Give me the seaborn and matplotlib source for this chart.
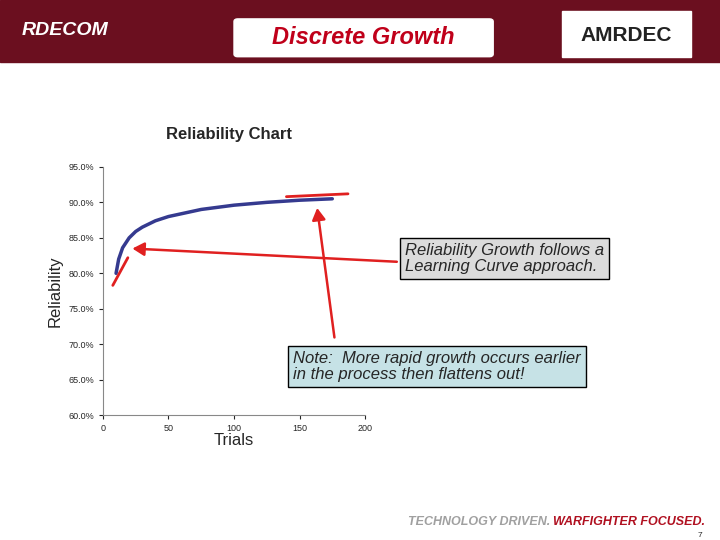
import numpy as np
import pandas as pd
import seaborn as sns
import matplotlib.pyplot as plt
from matplotlib.patches import Rectangle, FancyBboxPatch, FancyArrowPatch

sns.set_style("white")
plt.rcParams['font.family'] = ['Liberation Sans', 'DejaVu Sans']

trials = [10, 12, 15, 20, 25, 30, 40, 50, 75, 100, 125, 150, 175]
reliability = [80.0, 82.0, 83.6, 85.0, 85.9, 86.5, 87.4, 88.0, 89.0, 89.6, 90.0, 90.3, 90.5]
tangent_x = [[7.5, 19], [140, 187]]
tangent_y = [[78.3, 82.2], [90.8, 91.2]]

fig = plt.figure(figsize=(7.2, 5.4), dpi=100)

# header banner
fig.patches.append(Rectangle((0, 0.885), 1, 0.115, transform=fig.transFigure,
                             color='#6b0f1f', zorder=0))
fig.patches.append(FancyBboxPatch((0.33, 0.9), 0.35, 0.06, transform=fig.transFigure,
                                  boxstyle='round,pad=0.005', color='white', zorder=1))
fig.text(0.505, 0.93, 'Discrete Growth', ha='center', va='center', fontsize=17,
         fontweight='bold', style='italic', color='#c0001a')
fig.text(0.03, 0.935, 'RDECOM', fontsize=14, fontweight='bold', style='italic', color='white')
fig.patches.append(Rectangle((0.78, 0.895), 0.18, 0.085, transform=fig.transFigure,
                             color='white', zorder=1))
fig.text(0.87, 0.935, 'AMRDEC', ha='center', va='center', fontsize=15,
         fontweight='bold', color='#222222')
fig.text(0.566, 0.028, 'TECHNOLOGY DRIVEN.', fontsize=9, style='italic',
         fontweight='bold', color='#a0a0a0')
fig.text(0.768, 0.028, 'WARFIGHTER FOCUSED.', fontsize=9, style='italic',
         fontweight='bold', color='#b01020')
fig.text(0.975, 0.005, '7', fontsize=6, ha='right')

fig.text(0.318, 0.742, 'Reliability Chart', ha='center', fontsize=12, fontweight='bold')

ax = fig.add_axes([0.143, 0.231, 0.364, 0.46])
df = pd.DataFrame({'Trials': trials, 'Reliability': reliability})
sns.lineplot(data=df, x='Trials', y='Reliability', ax=ax, color='#353a8f', lw=2.5)
for tx, ty in zip(tangent_x, tangent_y):
    ax.plot(tx, ty, color='#e02020', lw=2)
ax.set_xlim(0, 200)
ax.set_ylim(60, 95)
ax.set_xticks([0, 50, 100, 150, 200])
ax.set_yticks(np.arange(60, 96, 5))
ax.set_yticklabels([f'{v:.1f}%' for v in np.arange(60, 96, 5)])
ax.tick_params(labelsize=6.5, length=3, left=True, bottom=True)
ax.set_xlabel('Trials', fontsize=12, labelpad=0)
ax.set_ylabel('Reliability', fontsize=12)
for s in ['top', 'right']:
    ax.spines[s].set_visible(False)
for s in ['left', 'bottom']:
    ax.spines[s].set_color('#888888')

fig.text(0.562, 0.493, 'Reliability Growth follows a\nLearning Curve approach.', fontsize=12,
         style='italic', va='bottom', linespacing=1.05,
         bbox=dict(facecolor='#dcdcdc', edgecolor='black', boxstyle='square,pad=0.3'))
fig.text(0.407, 0.293, 'Note:  More rapid growth occurs earlier\nin the process then flattens out!',
         fontsize=12, style='italic', va='bottom', linespacing=1.05,
         bbox=dict(facecolor='#c6e2e6', edgecolor='black', boxstyle='square,pad=0.3'))
fig.patches.append(FancyArrowPatch(
    (0.555, 0.515), (0.18, 0.54), transform=fig.transFigure, color='#e02020',
    arrowstyle='-|>,head_width=4,head_length=7', lw=1.8))
fig.patches.append(FancyArrowPatch(
    (0.465, 0.37), (0.44, 0.62), transform=fig.transFigure, color='#e02020',
    arrowstyle='-|>,head_width=4,head_length=7', lw=1.8))

fig.savefig('out.png', dpi=100)
